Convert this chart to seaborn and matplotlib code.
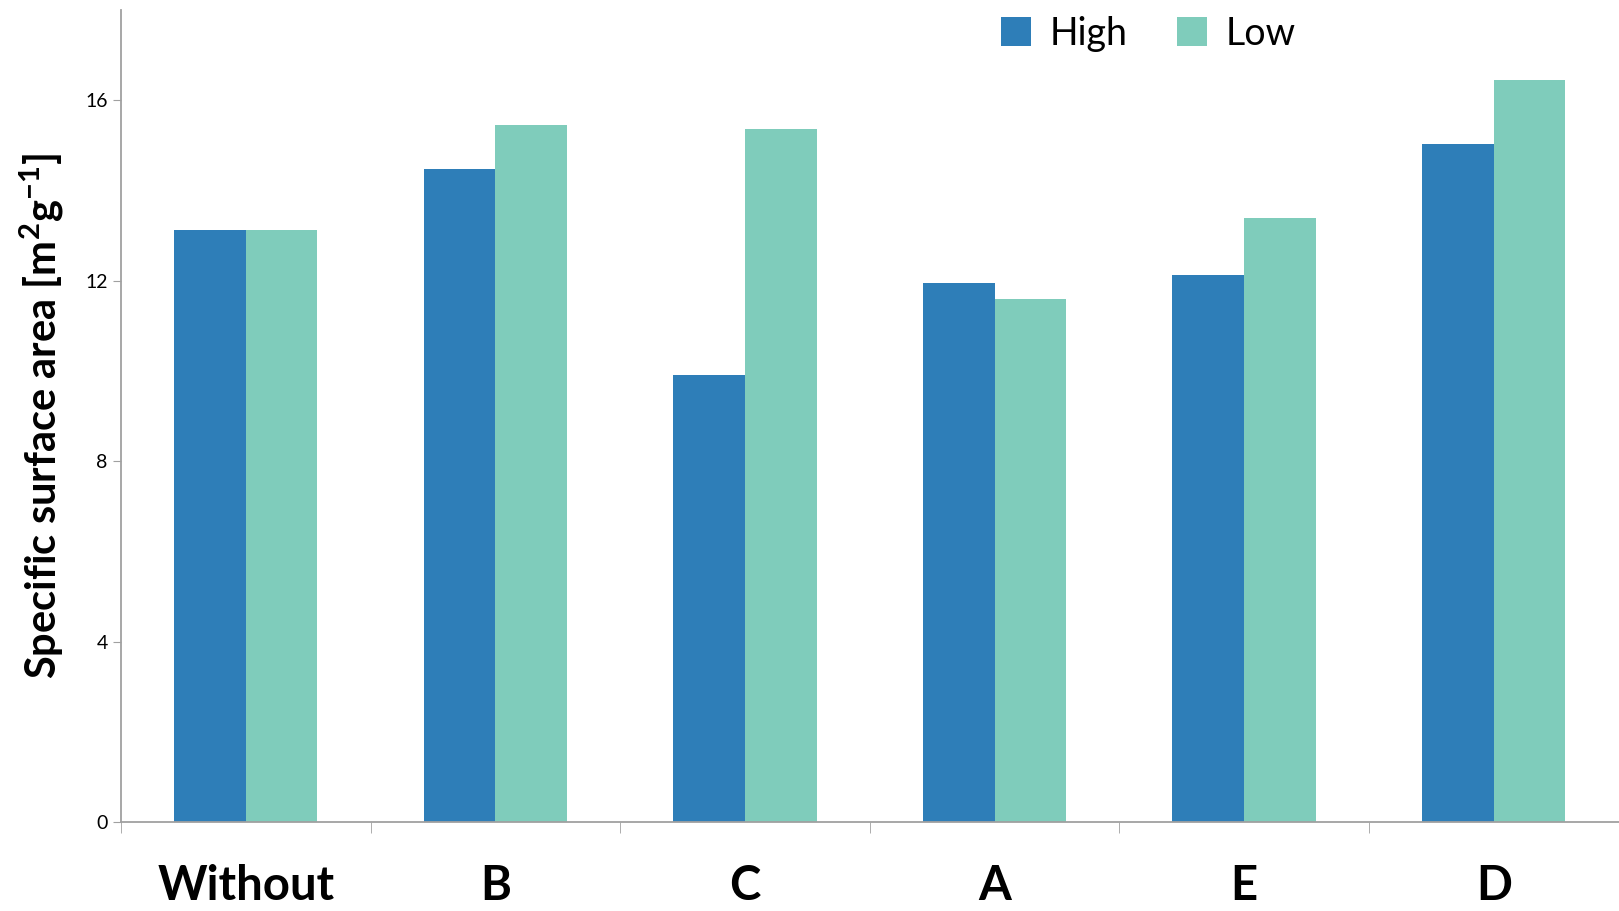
import pandas as pd
import matplotlib
matplotlib.use("Agg")
import matplotlib.pyplot as plt
import seaborn as sns

# data
treatments = ['Without', 'B', 'C', 'A', 'E', 'D']
high = [13.12, 14.49, 9.92, 11.95, 12.14, 15.04]
low = [13.12, 15.45, 15.36, 11.59, 13.39, 16.46]
levels = ['High', 'Low']
colors = ['#2E7EB8', '#7FCCBB']

df = pd.DataFrame({
    'Treatment': treatments * 2,
    'Level': ['High'] * len(high) + ['Low'] * len(low),
    'Area': high + low,
})

sns.set_style('white')
plt.rcParams['font.family'] = ['Lato', 'DejaVu Sans']
plt.rcParams['text.color'] = 'black'
plt.rcParams['axes.labelcolor'] = 'black'
plt.rcParams['xtick.color'] = 'black'
plt.rcParams['ytick.color'] = 'black'

fig = plt.figure(figsize=(16.19, 9.11), dpi=100)
ax = fig.add_axes([0.0747, 0.0977, 0.925, 0.891])

sns.barplot(data=df, x='Treatment', y='Area', hue='Level', hue_order=levels,
            palette=colors, width=0.575, saturation=1, linewidth=0, ax=ax)

ax.set_ylim(0, 18)
ax.set_xlim(-0.5, 5.5)
ax.set_yticks([0, 4, 8, 12, 16])
ax.tick_params(axis='y', labelsize=14, length=6, color='#A0A0A0', direction='out', left=True)
ax.set_xticks([i - 0.5 for i in range(7)], minor=True)
ax.tick_params(axis='x', which='minor', length=8, color='#A0A0A0', bottom=True)
ax.tick_params(axis='x', which='major', length=0, pad=30)
for lbl in ax.get_xticklabels():
    lbl.set_fontsize(34)
    lbl.set_fontweight('bold')

for s in ['top', 'right']:
    ax.spines[s].set_visible(False)
for s in ['left', 'bottom']:
    ax.spines[s].set_color('#A0A0A0')
    ax.spines[s].set_linewidth(1.3)

ax.set_xlabel('')
ax.set_ylabel(r'Specific surface area [m$\mathregular{^2}$g$\mathregular{^{-1}}$]',
              fontsize=30, fontweight='bold', labelpad=14)

ax.legend(loc='upper center', bbox_to_anchor=(0.686, 1.035), ncol=2, frameon=False,
          handlelength=0.8, handleheight=0.8, columnspacing=1.3,
          handletextpad=0.5, prop={'family': ['Lato', 'DejaVu Sans'], 'size': 27})

fig.savefig('out.png', dpi=100)
